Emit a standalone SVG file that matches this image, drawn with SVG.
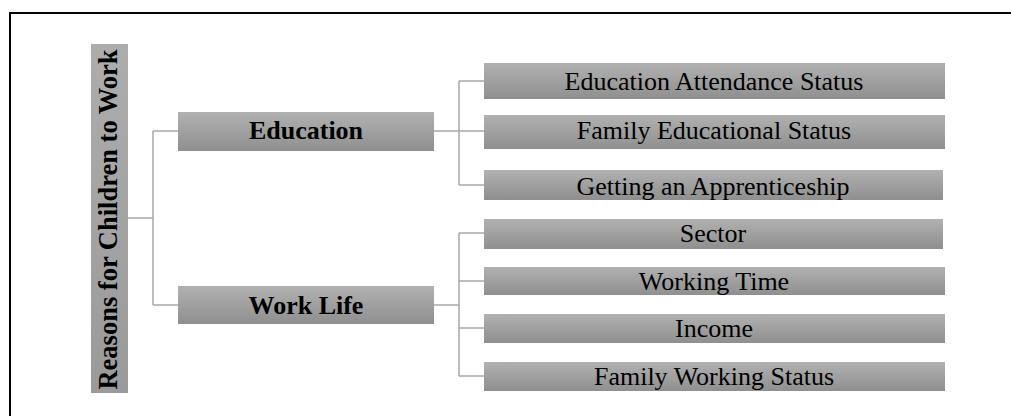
<svg xmlns="http://www.w3.org/2000/svg" width="1011" height="416" viewBox="0 0 1011 416">
<defs>
<linearGradient id="g" x1="0" y1="0" x2="0" y2="1">
<stop offset="0" stop-color="#b1b1b1"/>
<stop offset="1" stop-color="#8f8f8f"/>
</linearGradient>
<linearGradient id="gr" x1="0" y1="0" x2="0" y2="1">
<stop offset="0" stop-color="#adadad"/>
<stop offset="1" stop-color="#9a9a9a"/>
</linearGradient>
<style>
.box{fill:url(#g);}
.t{font-family:'Liberation Serif',serif;font-size:26px;fill:#000;text-anchor:middle;}
.b{font-weight:bold;}
.c{fill:none;stroke:#a8a8a8;stroke-width:1.5;}
</style>
</defs>
<rect x="0" y="0" width="1011" height="416" fill="#fff"/>
<path d="M10 416V13H1011" fill="none" stroke="#000" stroke-width="2"/>
<g id="connectors">
<path class="c" d="M128 218H153M153 131V305M153 131H178M153 305H178"/>
<path class="c" d="M434 131H459M459 81V185M459 81H484M459 131H484M459 185H484"/>
<path class="c" d="M434 305H459M459 233V376M459 233H484M459 281H484M459 328H484M459 376H484"/>
</g>
<g id="root">
<rect x="91" y="44" width="37" height="349" fill="url(#gr)"/>
<text class="t b" transform="translate(117 219.5) rotate(-90)" style="font-size:26.5px">Reasons for Children to Work</text>
</g>
<g id="education">
<rect class="box" x="178" y="112" width="256" height="39"/>
<text class="t b" x="306" y="139">Education</text>
</g>
<g id="worklife">
<rect class="box" x="178" y="286" width="256" height="38"/>
<text class="t b" x="306" y="314">Work Life</text>
</g>
<g id="edu-attendance">
<rect class="box" x="484" y="63" width="461" height="36"/>
<text class="t" x="714" y="90">Education Attendance Status</text>
</g>
<g id="family-edu">
<rect class="box" x="484" y="115" width="461" height="34"/>
<text class="t" x="714" y="139">Family Educational Status</text>
</g>
<g id="apprenticeship">
<rect class="box" x="484" y="170" width="459" height="30"/>
<text class="t" x="713" y="195">Getting an Apprenticeship</text>
</g>
<g id="sector">
<rect class="box" x="484" y="219" width="459" height="30"/>
<text class="t" x="713" y="242">Sector</text>
</g>
<g id="working-time">
<rect class="box" x="484" y="267" width="461" height="28"/>
<text class="t" x="714" y="290">Working Time</text>
</g>
<g id="income">
<rect class="box" x="484" y="314" width="461" height="29"/>
<text class="t" x="714" y="337">Income</text>
</g>
<g id="family-working">
<rect class="box" x="484" y="362" width="461" height="29"/>
<text class="t" x="714" y="385">Family Working Status</text>
</g>
</svg>
